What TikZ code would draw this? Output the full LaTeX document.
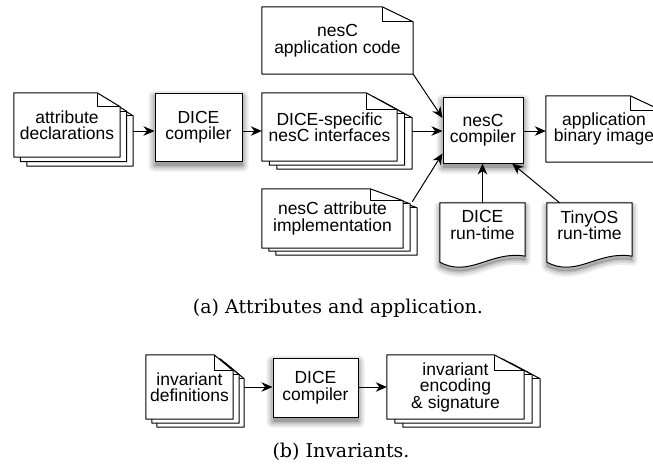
\documentclass[tikz,border=0pt]{standalone}
\usepackage{fontspec}
\setmainfont{Liberation Sans}
\newfontfamily\capfont{DejaVu Serif}
\usetikzlibrary{arrows.meta,calc}
\pgfdeclarelayer{shadow}
\pgfdeclarelayer{bg}
\pgfsetlayers{shadow,bg,main}

\tikzset{
  lbl/.style={font=\fontsize{17.5}{16.5}\selectfont, align=center, inner sep=0pt},
  docnode/.style={lbl, draw=none},
  sheet/.style={draw=none, inner sep=0pt},
  compiler/.style={lbl, draw=black, fill=white, line width=1pt},
  docline/.style={draw=black, fill=white, line width=1pt, line join=round},
  arr/.style={-{Stealth[length=11pt,width=9.5pt,inset=3.5pt]}, line width=1pt},
  capnode/.style={font=\capfont\fontsize{19}{19}\selectfont, inner sep=0pt},
}

% folded-corner sheet outline around a node: name, fold width, fold height
\newcommand\docsheet[3]{%
  \filldraw[docline] (#1.north west) -- ([xshift=-#2]#1.north east) -- ([yshift=-#3]#1.north east) -- (#1.south east) -- (#1.south west) -- cycle;
  \draw[docline, fill=none] ([xshift=-#2]#1.north east) -- ([xshift=-#2,yshift=-#3]#1.north east) -- ([yshift=-#3]#1.north east);
}
% wavy-bottom document path
\newcommand\rtpath[1]{(#1.north west) -- (#1.north east) -- ([yshift=-9pt]#1.south east) .. controls ($(#1.south west)!0.6!(#1.south east)+(0,3)$) and ($(#1.south west)!0.35!(#1.south east)+(0,31)$) .. ([yshift=-15pt]#1.south west) -- cycle}
% soft shadow below a rectangular node
\newcommand\softshadow[1]{%
  \begin{pgfonlayer}{shadow}
  \foreach \s/\o in {6pt/0.07,4pt/0.09,2pt/0.12,0pt/0.16}{
    \fill[black, opacity=\o, rounded corners=\s] ([shift={(-\s,-4pt+\s)}]#1.north west) rectangle ([shift={(\s,-4pt-\s)}]#1.south east);
  }
  \end{pgfonlayer}}
\newcommand\rtshadow[1]{%
  \begin{pgfonlayer}{shadow}
  \foreach \w/\o in {11pt/0.07,7pt/0.09,3pt/0.12}{
    \draw[line width=\w, opacity=\o, line join=round, transform canvas={yshift=-4pt}] \rtpath{#1};
  }
  \fill[black, opacity=0.16, transform canvas={yshift=-4pt}] \rtpath{#1};
  \end{pgfonlayer}}

\begin{document}
\begin{tikzpicture}[x=1pt, y=-1pt]
\useasboundingbox (0,0) rectangle (653,464);
\clip (0,0) rectangle (653,464);

% ---------- part (a) ----------
\node[docnode, minimum width=106pt, minimum height=64pt] (attr) at (67,125) {attribute\\declarations};
\node[sheet, minimum width=106pt, minimum height=64pt] (attrB) at (73.5,129.5) {};
\node[sheet, minimum width=106pt, minimum height=64pt] (attrC) at (80,134) {};

\node[compiler, minimum width=87pt, minimum height=68pt] (dice1) at (198.5,127) {DICE\\compiler};

\node[docnode, minimum width=135pt, minimum height=68pt] (ifaces) at (329.5,127) {DICE-specific\\nesC interfaces};
\node[sheet, minimum width=135pt, minimum height=68pt] (ifacesB) at (337,131) {};
\node[sheet, minimum width=135pt, minimum height=68pt] (ifacesC) at (344.5,135) {};

\node[docnode, minimum width=151pt, minimum height=67pt] (appcode) at (337.5,40.5) {nesC\\application code};

\node[docnode, minimum width=141pt, minimum height=59pt] (impl) at (332.5,218.5) {nesC attribute\\implementation};
\node[sheet, minimum width=141pt, minimum height=59pt] (implB) at (339.5,221.5) {};
\node[sheet, minimum width=141pt, minimum height=59pt] (implC) at (346.5,225.5) {};

\node[compiler, minimum width=80pt, minimum height=66pt] (nesc) at (483,130) {nesC\\compiler};

\node[docnode, minimum width=116pt, minimum height=66pt] (binary) at (604,129) {application\\binary image};

\node[docnode, minimum width=85pt, minimum height=44pt] (diceRT) at (482.5,225) {DICE\\run-time};
\node[docnode, minimum width=85pt, minimum height=44pt] (tinyRT) at (589.5,225) {TinyOS\\run-time};

\begin{pgfonlayer}{bg}
  \docsheet{attrC}{23pt}{14pt}
  \docsheet{attrB}{23pt}{14pt}
  \docsheet{attr}{23pt}{14pt}
  \docsheet{ifacesC}{31pt}{17pt}
  \docsheet{ifacesB}{31pt}{17pt}
  \docsheet{ifaces}{31pt}{17pt}
  \docsheet{appcode}{31pt}{15pt}
  \docsheet{implC}{33pt}{12pt}
  \docsheet{implB}{33pt}{12pt}
  \docsheet{impl}{33pt}{12pt}
  \docsheet{binary}{32pt}{15pt}
  \filldraw[docline] \rtpath{diceRT};
  \filldraw[docline] \rtpath{tinyRT};
\end{pgfonlayer}
\softshadow{dice1}
\softshadow{nesc}
\rtshadow{diceRT}
\rtshadow{tinyRT}

\coordinate (rowA) at (0,131);
\draw[arr] (attrC.east |- rowA) -- (dice1.west |- rowA);
\draw[arr] (dice1.east |- rowA) -- (ifaces.west |- rowA);
\draw[arr] (ifacesC.east |- rowA) -- (nesc.west |- rowA);
\draw[arr] (nesc.east |- rowA) -- (binary.west |- rowA);
\draw[arr] (appcode.south east) -- ($(nesc.north west)!0.32!(nesc.south west)$);
\draw[arr] ($(implC.north east)+(-5,6)$) -- ($(nesc.north west)!0.85!(nesc.south west)$);
\draw[arr] (diceRT.north) -- (diceRT.north |- nesc.south);
\draw[arr] ($(tinyRT.north west)!0.15!(tinyRT.north east)$) -- ($(nesc.south west)!0.86!(nesc.south east)$);

\node[capnode, anchor=base] (capA) at (338,313) {(a) Attributes and application.};

% ---------- part (b) ----------
\node[docnode, minimum width=87pt, minimum height=64pt] (idef) at (189.5,387) {invariant\\definitions};
\node[sheet, minimum width=87pt, minimum height=64pt] (idefB) at (195.5,391) {};
\node[sheet, minimum width=87pt, minimum height=64pt] (idefC) at (200.5,395) {};

\node[compiler, minimum width=85pt, minimum height=59pt] (dice2) at (315.5,387.5) {DICE\\compiler};

\node[docnode, minimum width=137pt, minimum height=64pt] (ienc) at (455.5,387) {invariant\\encoding\\\& signature};
\node[sheet, minimum width=137pt, minimum height=64pt] (iencB) at (463.5,391) {};
\node[sheet, minimum width=137pt, minimum height=64pt] (iencC) at (471.5,395) {};

\begin{pgfonlayer}{bg}
  \docsheet{idefC}{19pt}{16pt}
  \docsheet{idefB}{19pt}{16pt}
  \docsheet{idef}{19pt}{16pt}
  \docsheet{iencC}{30pt}{16pt}
  \docsheet{iencB}{30pt}{16pt}
  \docsheet{ienc}{30pt}{16pt}
\end{pgfonlayer}
\softshadow{dice2}

\coordinate (rowB) at (0,387);
\draw[arr] (idefC.east |- rowB) -- (dice2.west |- rowB);
\draw[arr] (dice2.east |- rowB) -- (ienc.west |- rowB);

\node[capnode, anchor=base] (capB) at (341,457) {(b) Invariants.};
\end{tikzpicture}
\end{document}
